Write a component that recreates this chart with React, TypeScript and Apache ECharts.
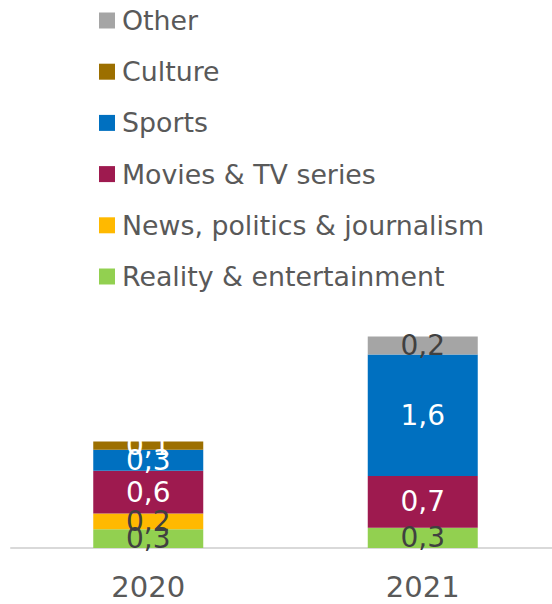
import React, { useEffect, useRef } from "react";
import * as echarts from "echarts";

const categories = ["2020", "2021"];
const seriesNames = [
  "Reality & entertainment",
  "News, politics & journalism",
  "Movies & TV series",
  "Sports",
  "Culture",
  "Other",
];
const realityValues = [0.25, 0.27];
const newsValues = [0.21, 0];
const moviesValues = [0.57, 0.69];
const sportsValues = [0.28, 1.62];
const cultureValues = [0.11, 0];
const otherValues = [0, 0.24];

const seriesValues = [realityValues, newsValues, moviesValues, sportsValues, cultureValues, otherValues];
const seriesColors = ["#92d050", "#ffb900", "#9e1a4f", "#0070c0", "#9c6f00", "#a5a5a5"];
const labelColors = ["#404040", "#404040", "#ffffff", "#ffffff", "#ffffff", "#404040"];

const FONT = "DejaVu Sans";

export default function App() {
  const ref = useRef<HTMLDivElement>(null);
  useEffect(() => {
    document.body.style.margin = "0";
    document.body.style.overflow = "hidden";
    const chart = echarts.init(ref.current!, null, { renderer: "svg" });
    chart.setOption({
      animation: false,
      backgroundColor: "#ffffff",
      legend: {
        orient: "vertical",
        left: 99,
        top: 7,
        padding: 0,
        itemWidth: 16,
        itemHeight: 16,
        itemGap: 24.2,
        icon: "rect",
        data: seriesNames.slice().reverse(),
        textStyle: { fontFamily: FONT, fontSize: 26.8, color: "#595959", lineHeight: 26, padding: [0, 0, 0, 2] },
      },
      grid: { left: 11, right: 0, top: 323, bottom: 56 },
      xAxis: {
        type: "category",
        data: categories,
        axisLine: { show: true, lineStyle: { color: "#d9d9d9", width: 2 } },
        axisTick: { show: false },
        axisLabel: { fontFamily: FONT, fontSize: 29, color: "#595959", margin: 24 },
      },
      yAxis: { type: "value", min: 0, max: 3, show: false, splitLine: { show: false } },
      series: seriesNames.map((name, i) => ({
        name,
        type: "bar",
        stack: "total",
        barWidth: 110,
        itemStyle: { color: seriesColors[i] },
        data: seriesValues[i],
        label: {
          show: true,
          position: "inside",
          fontFamily: FONT,
          fontSize: 28,
          color: labelColors[i],
          textBorderWidth: 0,
          formatter: (p: any) => (p.value > 0 ? (Math.round(p.value * 10) / 10).toFixed(1).replace(".", ",") : ""),
        },
      })),
    });
    return () => chart.dispose();
  }, []);
  return <div ref={ref} style={{ width: 560, height: 604, position: "absolute", left: 0, top: 0 }} />;
}
